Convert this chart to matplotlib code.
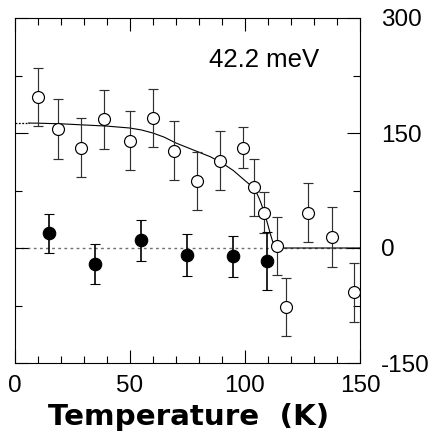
import matplotlib
matplotlib.use("Agg")
import matplotlib.pyplot as plt
import numpy as np
from matplotlib.ticker import MultipleLocator

plt.rcParams['font.family'] = ['Liberation Sans', 'DejaVu Sans']

# open circles
T_open = [10, 19, 29, 39, 50, 60, 69, 79, 89, 99, 104, 108.5, 114, 118, 127.5, 138, 147.5]
I_open = [197, 155, 131, 168, 140, 170, 127, 87, 114, 131, 79, 46, 3, -77, 46, 14, -58]
E_open = [38, 39, 38, 38.5, 38.5, 38, 38.5, 38, 38.5, 27, 37, 27, 38, 38, 38.5, 39, 38.5]

# filled circles
T_fill = [15, 35, 55, 75, 95, 109.5]
I_fill = [19, -21, 10, -9, -11, -17]
E_fill = [26, 26, 27, 27, 26.5, 38]

# fit curve
curve_T = [0, 6, 10, 20, 30, 40, 50, 55, 60, 65, 70, 75, 80, 85, 90, 95, 100, 102, 104,
           105, 106, 107, 108, 109, 110, 111, 112, 113, 114, 150]
curve_I = [163, 163, 162.8, 162, 160.5, 159, 156.5, 154, 150, 144.5, 137, 131, 125, 119,
           111, 101, 88, 83, 77, 72.5, 66, 58.5, 50, 40.5, 30, 19, 9, 2.5, 0, 0]

x_ticks = [0, 50, 100, 150]
y_ticks = [-150, 0, 150, 300]
annot = "42.2 meV"
x_label = "Temperature  (K)"

fig = plt.figure(figsize=(4.31, 4.41), dpi=100)
ax = fig.add_axes([14.7/431, 1-363/441, (360-14.7)/431, (363-18)/441])

ax.axhline(0, color='#707070', lw=1.0, dashes=(2.0, 2.4), zorder=1)

ct = np.array(curve_T); ci = np.array(curve_I)
m = ct <= 6
ax.plot(ct[m], ci[m], color='black', lw=0.9, dashes=(1.5, 1.2), zorder=2)
ax.plot(ct[ct >= 6], ci[ct >= 6], color='black', lw=0.8, zorder=2)

ax.errorbar(T_open, I_open, yerr=E_open, fmt='o', mfc='white', mec='black', mew=0.85,
            ms=8.6, ecolor='#303030', elinewidth=0.85, capsize=3.6, capthick=0.85, zorder=3)
ax.errorbar(T_fill, I_fill, yerr=E_fill, fmt='o', mfc='black', mec='black', mew=0.8,
            ms=9.0, ecolor='black', elinewidth=1.2, capsize=3.6, capthick=1.2, zorder=4)

ax.set_xlim(0, 150)
ax.set_ylim(-150, 300)
ax.set_xticks(x_ticks)
ax.set_xticklabels([str(v) for v in x_ticks])
ax.set_yticks(y_ticks)
ax.set_yticklabels([str(v) for v in y_ticks])
ax.xaxis.set_minor_locator(MultipleLocator(10))
ax.yaxis.set_minor_locator(MultipleLocator(75))

ax.tick_params(which='both', direction='in', top=True, right=True, bottom=True, left=True,
               labelleft=False, labelright=True, labeltop=False, labelbottom=True, width=0.8)
ax.tick_params(which='major', length=9.4)
ax.tick_params(which='minor', length=5)
ax.tick_params(axis='y', which='major', pad=15, labelsize=17.5)
ax.tick_params(axis='x', which='major', pad=8.6, labelsize=17.5)
for s in ax.spines.values():
    s.set_linewidth(0.8)

fig.text(209/431, 1-67.3/441, annot, fontsize=18.5, ha='left', va='baseline')
fig.text(189/431, 1-425/441, x_label, fontsize=21.2, fontweight='bold',
         family=['DejaVu Sans'], ha='center', va='baseline')

fig.savefig('out.png', dpi=100)
